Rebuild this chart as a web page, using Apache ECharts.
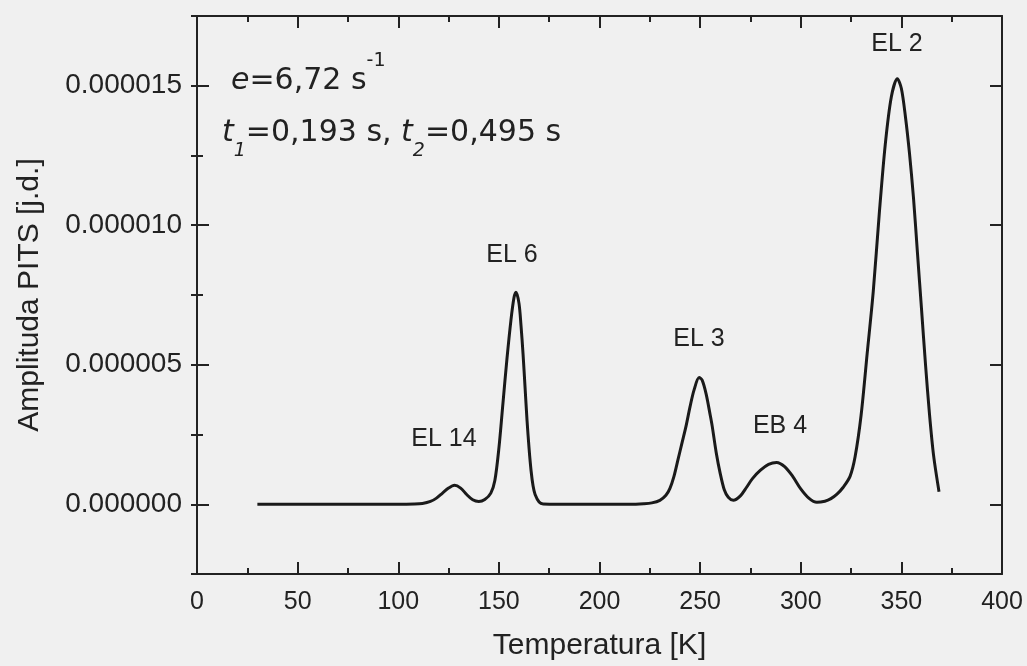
<!DOCTYPE html>
<html>
<head>
<meta charset="utf-8">
<script src="https://cdn.jsdelivr.net/npm/echarts@6/dist/echarts.min.js"></script>
<style>
html,body{margin:0;padding:0;background:#f0f0f0;}
#chart{width:1027px;height:666px;}
</style>
</head>
<body>
<div id="chart"></div>
<script>
// Temperature [K]
const temps = [30, 60, 100, 108, 112, 116, 119, 122, 125, 128, 131, 134, 137, 140, 143, 146, 148, 150, 152, 154, 156, 157.5, 158.5, 160, 161, 162, 163, 164, 165, 166, 167, 168, 170, 172, 180, 200, 215, 222, 226, 230, 233, 235, 237, 239, 241, 243, 245, 247, 249.5, 251, 253, 255, 256, 258, 260, 262, 264, 266.5, 270, 273, 276, 280, 284, 288, 292, 296, 300, 304, 308, 312, 315, 318, 321, 324.5, 327, 330, 333, 336, 339, 342, 345, 348, 350, 352, 354, 356, 358, 360, 362, 364, 366, 368.7];
// PITS amplitude in units of 1e-6
const ampMicro = [0, 0, 0, 0.01, 0.03, 0.1, 0.22, 0.4, 0.58, 0.68, 0.58, 0.35, 0.16, 0.1, 0.17, 0.4, 0.85, 2.0, 3.6, 5.2, 6.6, 7.4, 7.6, 7.2, 6.4, 5.4, 4.2, 3.0, 2.0, 1.2, 0.65, 0.35, 0.08, 0.01, 0, 0, 0, 0.02, 0.05, 0.14, 0.32, 0.57, 1.0, 1.6, 2.2, 2.8, 3.5, 4.1, 4.54, 4.45, 3.95, 3.2, 2.8, 1.85, 1.1, 0.52, 0.25, 0.14, 0.3, 0.6, 0.92, 1.22, 1.43, 1.5, 1.35, 1.0, 0.55, 0.22, 0.07, 0.11, 0.2, 0.36, 0.6, 1.0, 1.7, 3.2, 5.4, 7.6, 10.4, 12.9, 14.6, 15.25, 14.9, 13.9, 12.6, 11.0, 9.0, 7.0, 5.0, 3.2, 1.75, 0.45];
// Peak names and where their labels sit (temperature, amplitude in 1e-6)
const peakNames = ['EL 14', 'EL 6', 'EL 3', 'EB 4', 'EL 2'];
const peakLabelT = [122.7, 156.5, 249.4, 289.7, 347.8];
const peakLabelAmp = [2.32, 8.93, 5.93, 2.79, 16.5];
// Axis ranges / ticks
const xMin = 0, xMax = 400, xStep = 50;
const yMin = -2.5e-6, yMax = 17.5e-6, yMinorStep = 2.5e-6;

const seriesData = temps.map((t, i) => [t, ampMicro[i] * 1e-6]);

const chart = echarts.init(document.getElementById('chart'), null, {renderer: 'canvas'});
const txt = '#222';
const axisCol = '#222';
const labelFont = 'Liberation Sans, Arial, sans-serif';

function fmtY(v) {
  const k = Math.round(v / 5e-6);
  if (Math.abs(v - k * 5e-6) > 1e-12 || v < -1e-12 || v > 16e-6) return '';
  return (k * 5e-6).toFixed(6);
}

const baseX = {
  type: 'value', min: xMin, max: xMax, interval: xStep,
  axisLine: {show: true, onZero: false, lineStyle: {color: axisCol, width: 2}},
  axisTick: {show: true, inside: true, length: 12, lineStyle: {color: axisCol, width: 2}},
  minorTick: {show: true, splitNumber: 2, length: 6, lineStyle: {color: axisCol, width: 2}},
  splitLine: {show: false}, minorSplitLine: {show: false}
};

const option = {
  backgroundColor: '#f0f0f0',
  animation: false,
  grid: {left: 197, right: 25, top: 16, bottom: 90, containLabel: false},
  xAxis: [
    Object.assign({}, baseX, {
      position: 'bottom',
      name: 'Temperatura [K]', nameLocation: 'middle', nameGap: 57,
      nameTextStyle: {fontSize: 30, color: txt, fontFamily: labelFont},
      axisLabel: {show: true, margin: 16, fontSize: 25, color: txt, fontFamily: labelFont}
    }),
    Object.assign({}, baseX, {position: 'top', axisLabel: {show: false}})
  ],
  yAxis: [
    {
      type: 'value', min: yMin, max: yMax, splitNumber: 4, position: 'left',
      name: 'Amplituda PITS [j.d.]', nameLocation: 'middle', nameGap: 152,
      nameTextStyle: {fontSize: 30, color: txt, fontFamily: labelFont},
      axisLine: {show: true, onZero: false, lineStyle: {color: axisCol, width: 2}},
      axisTick: {show: true, inside: true, length: 12, lineStyle: {color: axisCol, width: 2}},
      axisLabel: {show: true, margin: 15, fontSize: 28, color: txt, fontFamily: labelFont,
                  showMinLabel: false, showMaxLabel: false, formatter: fmtY},
      splitLine: {show: false}
    },
    {
      type: 'value', min: yMin, max: yMax, interval: yMinorStep, position: 'left',
      axisLine: {show: false}, axisLabel: {show: false}, splitLine: {show: false},
      axisTick: {show: true, inside: true, length: 6, lineStyle: {color: axisCol, width: 2}}
    },
    {
      type: 'value', min: yMin, max: yMax, splitNumber: 4, position: 'right',
      axisLine: {show: true, onZero: false, lineStyle: {color: axisCol, width: 2}},
      axisTick: {show: true, inside: true, length: 12, lineStyle: {color: axisCol, width: 2}},
      axisLabel: {show: false}, splitLine: {show: false}
    },
    {
      type: 'value', min: yMin, max: yMax, interval: yMinorStep, position: 'right',
      axisLine: {show: false}, axisLabel: {show: false}, splitLine: {show: false},
      axisTick: {show: true, inside: true, length: 6, lineStyle: {color: axisCol, width: 2}}
    }
  ],
  series: [{
    type: 'line',
    xAxisIndex: 0, yAxisIndex: 0,
    data: seriesData,
    smooth: 0.3,
    symbol: 'none',
    lineStyle: {color: '#1a1a1a', width: 3},
    markPoint: {
      symbol: 'circle', symbolSize: 0,
      label: {show: true, position: 'inside', formatter: '{b}', fontSize: 25, color: txt, fontFamily: labelFont},
      data: peakNames.map((n, i) => ({name: n, coord: [peakLabelT[i], peakLabelAmp[i] * 1e-6]}))
    }
  }],
  graphic: [
    {
      type: 'text', left: 231, top: 52, z: 10,
      style: {
        text: '{i|e}{n|=6,72 s}{sup|-1}',
        fill: txt,
        rich: {
          i: {fontSize: 30, fontStyle: 'italic', fontFamily: 'DejaVu Sans', fill: txt, color: txt},
          n: {fontSize: 30, fontFamily: 'DejaVu Sans', fill: txt, color: txt},
          sup: {fontSize: 19, fontFamily: 'DejaVu Sans', fill: txt, color: txt, padding: [0, 0, 40, 0]}
        }
      }
    },
    {
      type: 'text', left: 222, top: 118, z: 10,
      style: {
        text: '{i|t}{sub|1}{n|=0,193 s, }{i|t}{sub|2}{n|=0,495 s}',
        fill: txt,
        rich: {
          i: {fontSize: 30, fontStyle: 'italic', fontFamily: 'DejaVu Sans', fill: txt, color: txt},
          n: {fontSize: 30, fontFamily: 'DejaVu Sans', fill: txt, color: txt},
          sub: {fontSize: 19, fontStyle: 'italic', fontFamily: 'DejaVu Sans', fill: txt, color: txt, padding: [36, 0, 0, 0]}
        }
      }
    }
  ]
};
chart.setOption(option);
</script>
</body>
</html>
